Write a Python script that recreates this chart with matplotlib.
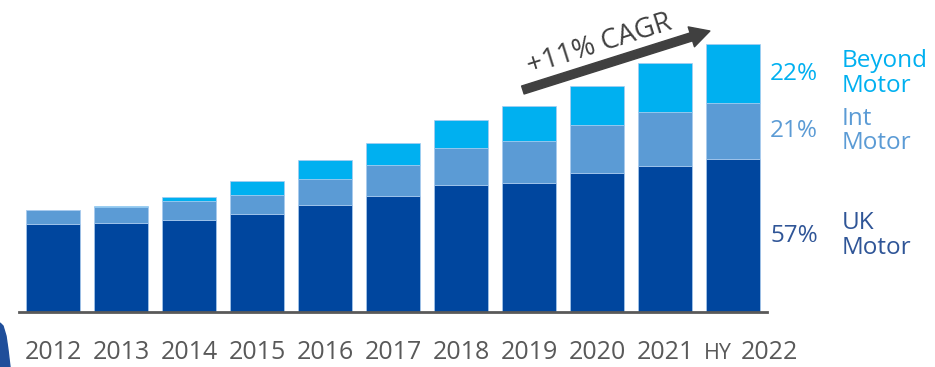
import matplotlib.pyplot as plt
from matplotlib.patches import Polygon

plt.rcParams['font.family'] = ['Open Sans', 'DejaVu Sans']

# Stacked premium by segment, 2012 to half-year 2022
years = ['2012', '2013', '2014', '2015', '2016', '2017', '2018', '2019', '2020', '2021', '2022']
uk_motor = [88, 89, 92, 98, 107, 116, 127, 129, 139, 146, 153]
int_motor = [14, 16, 19, 19, 26, 31, 37, 42, 48, 54, 56]
beyond_motor = [0, 1, 4, 14, 19, 22, 28, 35, 39, 49, 59]

segment_names = ['UK\nMotor', 'Int\nMotor', 'Beyond\nMotor']
segment_colors = ['#00469E', '#5B9BD5', '#00B0F0']
label_colors = ['#2F5597', '#5B9BD5', '#00B0F0']
cagr_label = '+11% CAGR'

fig = plt.figure(figsize=(9.35, 3.67), dpi=100)
ax = fig.add_axes([19 / 935, 55 / 367, 748 / 935, 285 / 367])

x = list(range(len(years)))
width = 0.8
bottom = [0] * len(years)
for values, color in zip([uk_motor, int_motor, beyond_motor], segment_colors):
    ax.bar(x, values, width, bottom=bottom, color=color, edgecolor='#A9CBEF', linewidth=0.5)
    bottom = [b + v for b, v in zip(bottom, values)]

ax.set_xlim(-0.5, 10.5)
ax.set_ylim(0, 285)
for side in ['top', 'left', 'right']:
    ax.spines[side].set_visible(False)
ax.spines['bottom'].set_color('#595959')
ax.spines['bottom'].set_linewidth(2)
ax.set_xticks([])
ax.set_yticks([])

# year labels under the bars, the last one is a half-year
for i, yr in enumerate(years[:-1]):
    ax.text(i, -47, yr, ha='center', va='baseline', fontsize=18, color='#595959')
ax.text(10.54, -47, years[-1], ha='center', va='baseline', fontsize=18, color='#595959', clip_on=False)
ax.text(9.78, -47, 'HY', ha='center', va='baseline', fontsize=15.5, color='#595959')

# segment shares of the latest bar
total = uk_motor[-1] + int_motor[-1] + beyond_motor[-1]
base = 0
for values, name, color in zip([uk_motor, int_motor, beyond_motor], segment_names, label_colors):
    mid = base + values[-1] / 2
    share = round(100 * values[-1] / total)
    ax.text(11.25, mid, f'{share}%', ha='right', va='center', fontsize=17.5, color=color, clip_on=False)
    ax.text(11.6, mid, name, ha='left', va='center', fontsize=17.5, color=color, linespacing=1.05, clip_on=False)
    base += values[-1]

# growth arrow
ax.annotate('', xy=(9.66, 281), xytext=(6.91, 222), annotation_clip=False,
            arrowprops=dict(arrowstyle='simple,head_length=0.7,head_width=0.75,tail_width=0.3',
                            mutation_scale=20, color='#404040', shrinkA=0, shrinkB=0))
ax.text(8.04, 267, cagr_label, ha='center', va='center', rotation=17.5, rotation_mode='anchor',
        fontsize=20, color='#404040', clip_on=False)

# corner decoration
pts = [(0, 323), (3, 326), (6, 336), (8, 350), (10, 367), (0, 367)]
fig.patches.append(Polygon([(px / 935, 1 - py / 367) for px, py in pts], closed=True,
                           transform=fig.transFigure, color='#1F4E9A'))

fig.savefig('out.png', dpi=100)
